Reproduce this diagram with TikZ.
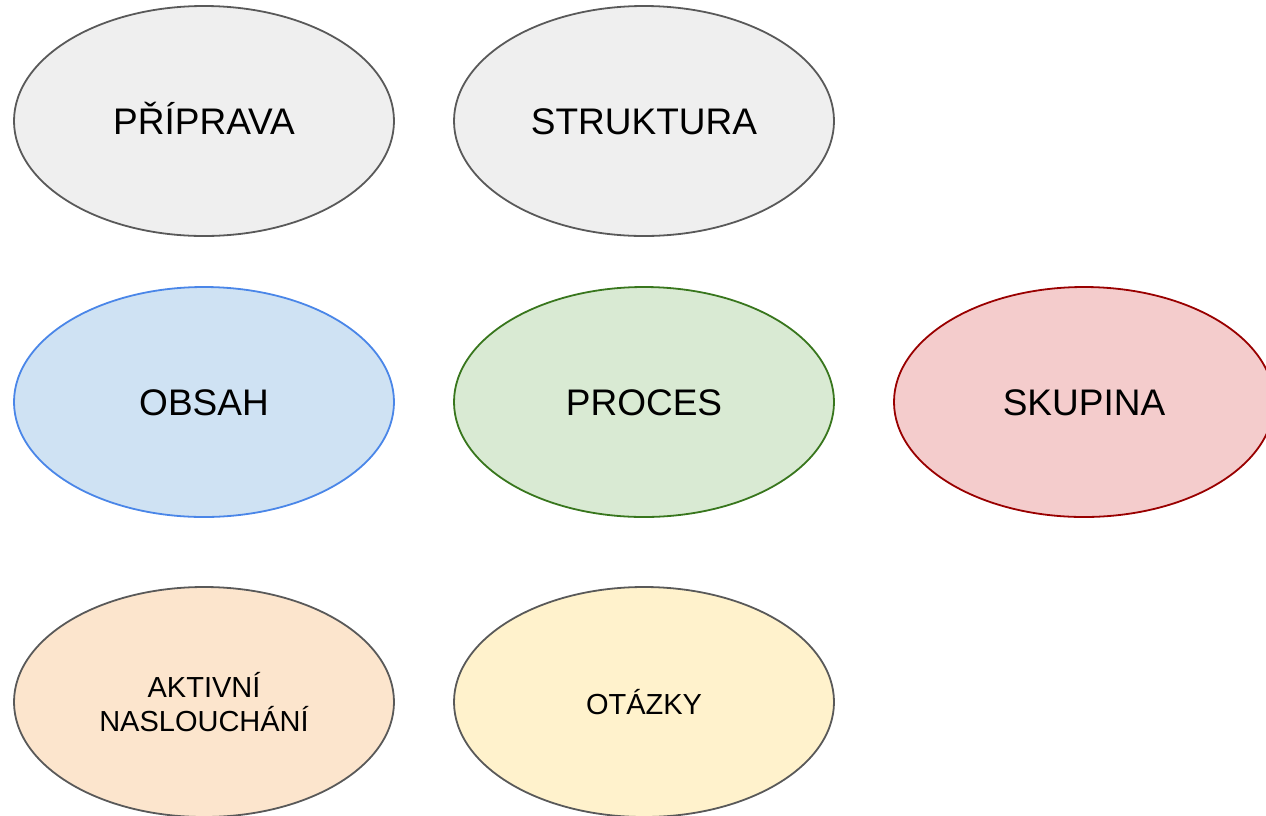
\documentclass[tikz,border=0pt]{standalone}
\usepackage{fontspec}
\setmainfont{Liberation Sans}
\usetikzlibrary{shapes.geometric}
\definecolor{grayfill}{HTML}{EFEFEF}
\definecolor{graydraw}{HTML}{595959}
\definecolor{bluefill}{HTML}{CFE2F3}
\definecolor{bluedraw}{HTML}{4A86E8}
\definecolor{greenfill}{HTML}{D9EAD3}
\definecolor{greendraw}{HTML}{38761D}
\definecolor{redfill}{HTML}{F4CCCC}
\definecolor{reddraw}{HTML}{990000}
\definecolor{orangefill}{HTML}{FCE5CD}
\definecolor{yellowfill}{HTML}{FFF2CC}
\tikzset{
  oval/.style={ellipse, minimum width=380pt, minimum height=230pt, inner sep=0pt, line width=1.8pt},
  bigtext/.style={font=\fontsize{37}{42}\selectfont, text height=26.6pt, text depth=0pt},
  smalltext/.style={font=\fontsize{29}{34}\selectfont, align=center},
}
\begin{document}
\begin{tikzpicture}[x=1pt,y=-1pt]
\useasboundingbox (0,0) rectangle (1266,815);
\clip (0,0) rectangle (1266,815);
\node[oval, bigtext, fill=grayfill, draw=graydraw] (priprava) at (204,121) {PŘÍPRAVA};
\node[oval, bigtext, fill=grayfill, draw=graydraw] (struktura) at (644,121) {STRUKTURA};
\node[oval, bigtext, fill=bluefill, draw=bluedraw] (obsah) at (204,402) {OBSAH};
\node[oval, bigtext, fill=greenfill, draw=greendraw] (proces) at (644,402) {PROCES};
\node[oval, bigtext, fill=redfill, draw=reddraw] (skupina) at (1084,402) {SKUPINA};
\node[oval, smalltext, fill=orangefill, draw=graydraw] (aktivni) at (204,702) {AKTIVNÍ\\NASLOUCHÁNÍ};
\node[oval, smalltext, fill=yellowfill, draw=graydraw] (otazky) at (644,702) {OTÁZKY};
\end{tikzpicture}
\end{document}
